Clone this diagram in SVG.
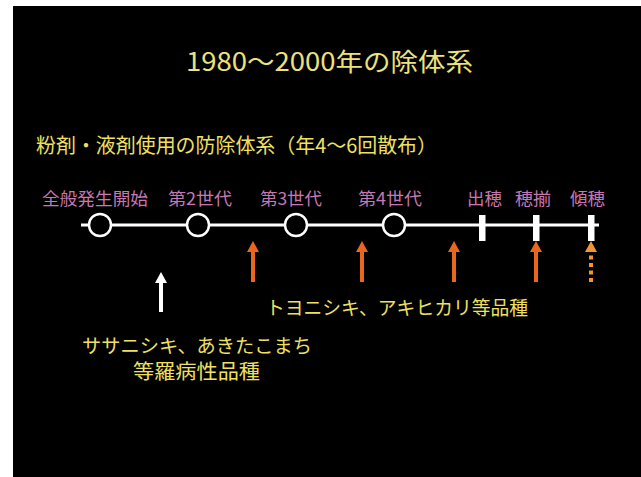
<svg xmlns="http://www.w3.org/2000/svg" width="641" height="477" viewBox="0 0 641 477">
<defs>
<style>
.t{font-family:"Noto Sans CJK JP","Liberation Sans",sans-serif;}
.y{fill:#F0E060;}
.p{fill:#C678B2;font-size:17px;}
.circ{fill:#000;stroke:#fff;stroke-width:2.5;}
.tick{fill:#fff;}
.or{fill:#E8661E;}
.or2{fill:#F09438;}
</style>
</defs>
<rect x="0" y="0" width="641" height="477" fill="#fff"/>
<rect x="13" y="6" width="628" height="471" fill="#000"/>
<g id="title"><text class="t" x="186" y="71" font-size="25" fill="#EEE27A" textLength="287" lengthAdjust="spacingAndGlyphs">1980〜2000年の除体系</text></g>
<g id="subtitle"><text class="t y" x="36" y="153" font-size="20" textLength="401" lengthAdjust="spacingAndGlyphs">粉剤・液剤使用の防除体系（年4〜6回散布）</text></g>
<g id="connectors">
<line x1="81" y1="225" x2="599" y2="225" stroke="#fff" stroke-width="3"/>
</g>
<g id="n-start"><text class="t p" x="42" y="205" textLength="106" lengthAdjust="spacingAndGlyphs">全般発生開始</text><circle class="circ" cx="100" cy="225" r="11"/></g>
<g id="n-gen2"><text class="t p" x="168" y="205" textLength="64" lengthAdjust="spacingAndGlyphs">第2世代</text><circle class="circ" cx="198" cy="225" r="11"/></g>
<g id="n-gen3"><text class="t p" x="260" y="205" textLength="62" lengthAdjust="spacingAndGlyphs">第3世代</text><circle class="circ" cx="296" cy="225" r="11"/></g>
<g id="n-gen4"><text class="t p" x="358" y="205" textLength="64" lengthAdjust="spacingAndGlyphs">第4世代</text><circle class="circ" cx="394" cy="225" r="11"/></g>
<g id="n-heading"><text class="t p" x="467" y="205" textLength="35" lengthAdjust="spacingAndGlyphs">出穂</text><rect class="tick" x="479" y="215" width="6.5" height="26"/></g>
<g id="n-full"><text class="t p" x="515" y="205" textLength="36" lengthAdjust="spacingAndGlyphs">穂揃</text><rect class="tick" x="533" y="215" width="6.5" height="26"/></g>
<g id="n-tilt"><text class="t p" x="570" y="205" textLength="35" lengthAdjust="spacingAndGlyphs">傾穂</text><rect class="tick" x="588" y="215" width="6.5" height="26"/></g>
<g id="arrows">
<g class="or">
<polygon points="253,241 259,252 247,252"/><rect x="251" y="251" width="4" height="31"/>
<polygon points="362,241 368,252 356,252"/><rect x="360" y="251" width="4" height="31"/>
<polygon points="454,241 460,252 448,252"/><rect x="452" y="251" width="4" height="31"/>
<polygon points="536,241 542,252 530,252"/><rect x="534" y="251" width="4" height="31"/>
</g>
<g class="or2">
<polygon points="591,241 597,252 585,252"/>
<rect x="589" y="255.5" width="4" height="4"/>
<rect x="589" y="263" width="4" height="4"/>
<rect x="589" y="270.5" width="4" height="4"/>
<rect x="589" y="278" width="4" height="4"/>
</g>
<polygon points="161,272 167,283 155,283" fill="#fff"/>
<rect x="159" y="282" width="4" height="30" fill="#fff"/>
</g>
<g id="label-toyo"><text class="t y" x="266" y="315" font-size="19" textLength="262" lengthAdjust="spacingAndGlyphs">トヨニシキ、アキヒカリ等品種</text></g>
<g id="label-sasa"><text class="t y" x="82" y="353" font-size="19" textLength="230" lengthAdjust="spacingAndGlyphs">ササニシキ、あきたこまち</text>
<text class="t y" x="133" y="379" font-size="20" textLength="127" lengthAdjust="spacingAndGlyphs">等羅病性品種</text></g>
</svg>
